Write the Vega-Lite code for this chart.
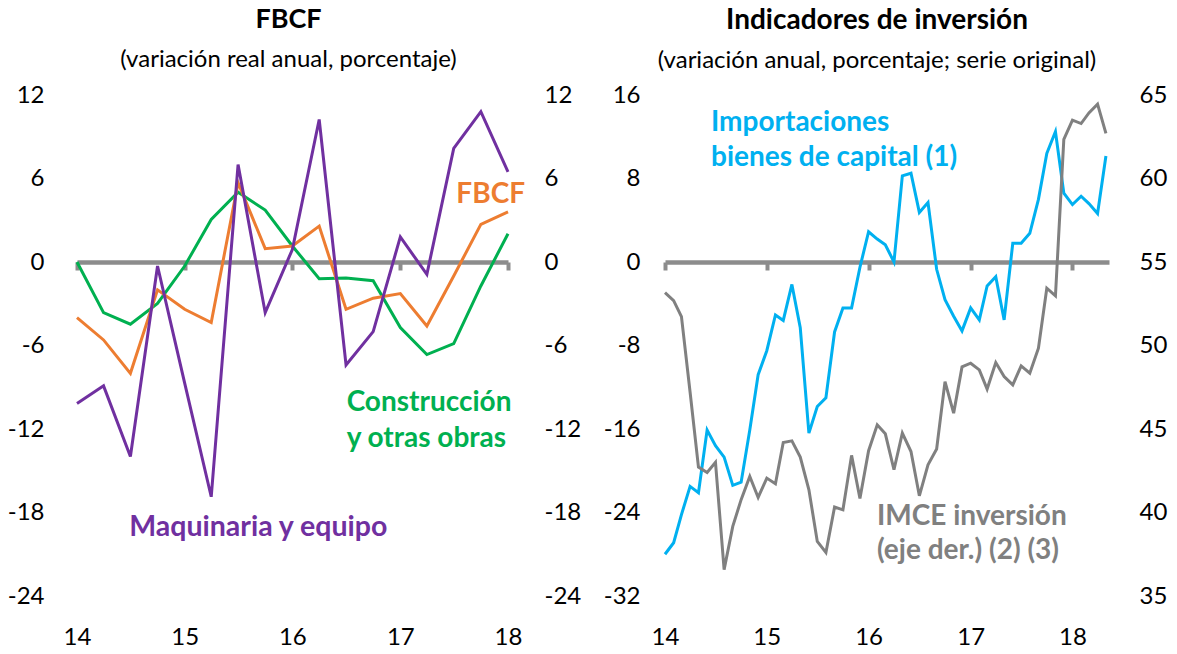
{
  "$schema": "https://vega.github.io/schema/vega-lite/v6.json",
  "padding": {"left": 7, "top": 6, "right": 4, "bottom": 4},
  "background": "white",
  "bounds": "flush",
  "spacing": 157,
  "config": {
    "font": "Lato",
    "view": {"stroke": null},
    "axis": {"grid": false, "domain": false, "ticks": false, "labelFontSize": 24, "labelColor": "black", "labelFont": "Lato", "title": null},
    "title": {"font": "Lato", "fontSize": 27, "fontWeight": "bold", "color": "black", "subtitleFont": "Lato", "subtitleFontSize": 24, "subtitleColor": "black", "subtitlePadding": 14, "offset": 10, "anchor": "middle"}
  },
  "datasets": {
    "fbcf": [
      {"fecha": "2014-01-01", "serie": "Construcción y otras obras", "valor": 0.0},
      {"fecha": "2014-04-01", "serie": "Construcción y otras obras", "valor": -3.64},
      {"fecha": "2014-07-01", "serie": "Construcción y otras obras", "valor": -4.47},
      {"fecha": "2014-10-01", "serie": "Construcción y otras obras", "valor": -2.97},
      {"fecha": "2015-01-01", "serie": "Construcción y otras obras", "valor": -0.29},
      {"fecha": "2015-04-01", "serie": "Construcción y otras obras", "valor": 3.06},
      {"fecha": "2015-07-01", "serie": "Construcción y otras obras", "valor": 5.02},
      {"fecha": "2015-10-01", "serie": "Construcción y otras obras", "valor": 3.73},
      {"fecha": "2016-01-01", "serie": "Construcción y otras obras", "valor": 1.15},
      {"fecha": "2016-04-01", "serie": "Construcción y otras obras", "valor": -1.2},
      {"fecha": "2016-07-01", "serie": "Construcción y otras obras", "valor": -1.15},
      {"fecha": "2016-10-01", "serie": "Construcción y otras obras", "valor": -1.34},
      {"fecha": "2017-01-01", "serie": "Construcción y otras obras", "valor": -4.71},
      {"fecha": "2017-04-01", "serie": "Construcción y otras obras", "valor": -6.65},
      {"fecha": "2017-07-01", "serie": "Construcción y otras obras", "valor": -5.86},
      {"fecha": "2017-10-01", "serie": "Construcción y otras obras", "valor": -1.72},
      {"fecha": "2018-01-01", "serie": "Construcción y otras obras", "valor": 2.03},
      {"fecha": "2014-01-01", "serie": "FBCF", "valor": -4.0},
      {"fecha": "2014-04-01", "serie": "FBCF", "valor": -5.6},
      {"fecha": "2014-07-01", "serie": "FBCF", "valor": -8.0},
      {"fecha": "2014-10-01", "serie": "FBCF", "valor": -2.0},
      {"fecha": "2015-01-01", "serie": "FBCF", "valor": -3.4},
      {"fecha": "2015-04-01", "serie": "FBCF", "valor": -4.35},
      {"fecha": "2015-07-01", "serie": "FBCF", "valor": 5.7},
      {"fecha": "2015-10-01", "serie": "FBCF", "valor": 0.96},
      {"fecha": "2016-01-01", "serie": "FBCF", "valor": 1.15},
      {"fecha": "2016-04-01", "serie": "FBCF", "valor": 2.58},
      {"fecha": "2016-07-01", "serie": "FBCF", "valor": -3.4},
      {"fecha": "2016-10-01", "serie": "FBCF", "valor": -2.6},
      {"fecha": "2017-01-01", "serie": "FBCF", "valor": -2.27},
      {"fecha": "2017-04-01", "serie": "FBCF", "valor": -4.6},
      {"fecha": "2017-07-01", "serie": "FBCF", "valor": -1.0},
      {"fecha": "2017-10-01", "serie": "FBCF", "valor": 2.7},
      {"fecha": "2018-01-01", "serie": "FBCF", "valor": 3.6},
      {"fecha": "2014-01-01", "serie": "Maquinaria y equipo", "valor": -10.17},
      {"fecha": "2014-04-01", "serie": "Maquinaria y equipo", "valor": -8.9},
      {"fecha": "2014-07-01", "serie": "Maquinaria y equipo", "valor": -13.97},
      {"fecha": "2014-10-01", "serie": "Maquinaria y equipo", "valor": -0.29},
      {"fecha": "2015-01-01", "serie": "Maquinaria y equipo", "valor": -8.7},
      {"fecha": "2015-04-01", "serie": "Maquinaria y equipo", "valor": -16.87},
      {"fecha": "2015-07-01", "serie": "Maquinaria y equipo", "valor": 7.0},
      {"fecha": "2015-10-01", "serie": "Maquinaria y equipo", "valor": -3.64},
      {"fecha": "2016-01-01", "serie": "Maquinaria y equipo", "valor": 0.9},
      {"fecha": "2016-04-01", "serie": "Maquinaria y equipo", "valor": 10.24},
      {"fecha": "2016-07-01", "serie": "Maquinaria y equipo", "valor": -7.4},
      {"fecha": "2016-10-01", "serie": "Maquinaria y equipo", "valor": -5.0},
      {"fecha": "2017-01-01", "serie": "Maquinaria y equipo", "valor": 1.8},
      {"fecha": "2017-04-01", "serie": "Maquinaria y equipo", "valor": -0.89},
      {"fecha": "2017-07-01", "serie": "Maquinaria y equipo", "valor": 8.16},
      {"fecha": "2017-10-01", "serie": "Maquinaria y equipo", "valor": 10.8},
      {"fecha": "2018-01-01", "serie": "Maquinaria y equipo", "valor": 6.48}
    ],
    "importaciones": [
      {"fecha": "2014-01-01", "valor": -28.0},
      {"fecha": "2014-02-01", "valor": -26.9},
      {"fecha": "2014-03-01", "valor": -24.2},
      {"fecha": "2014-04-01", "valor": -21.5},
      {"fecha": "2014-05-01", "valor": -22.1},
      {"fecha": "2014-06-01", "valor": -16.1},
      {"fecha": "2014-07-01", "valor": -17.6},
      {"fecha": "2014-08-01", "valor": -18.7},
      {"fecha": "2014-09-01", "valor": -21.4},
      {"fecha": "2014-10-01", "valor": -21.1},
      {"fecha": "2014-11-01", "valor": -16.1},
      {"fecha": "2014-12-01", "valor": -10.8},
      {"fecha": "2015-01-01", "valor": -8.5},
      {"fecha": "2015-02-01", "valor": -5.07},
      {"fecha": "2015-03-01", "valor": -5.6},
      {"fecha": "2015-04-01", "valor": -2.15},
      {"fecha": "2015-05-01", "valor": -6.3},
      {"fecha": "2015-06-01", "valor": -16.4},
      {"fecha": "2015-07-01", "valor": -13.85},
      {"fecha": "2015-08-01", "valor": -13.0},
      {"fecha": "2015-09-01", "valor": -6.7},
      {"fecha": "2015-10-01", "valor": -4.4},
      {"fecha": "2015-11-01", "valor": -4.4},
      {"fecha": "2015-12-01", "valor": -0.5},
      {"fecha": "2016-01-01", "valor": 2.9},
      {"fecha": "2016-02-01", "valor": 2.2},
      {"fecha": "2016-03-01", "valor": 1.65},
      {"fecha": "2016-04-01", "valor": 0.0},
      {"fecha": "2016-05-01", "valor": 8.25},
      {"fecha": "2016-06-01", "valor": 8.5},
      {"fecha": "2016-07-01", "valor": 4.75},
      {"fecha": "2016-08-01", "valor": 5.7},
      {"fecha": "2016-09-01", "valor": -0.7},
      {"fecha": "2016-10-01", "valor": -3.6},
      {"fecha": "2016-11-01", "valor": -5.2},
      {"fecha": "2016-12-01", "valor": -6.6},
      {"fecha": "2017-01-01", "valor": -4.4},
      {"fecha": "2017-02-01", "valor": -5.55},
      {"fecha": "2017-03-01", "valor": -2.3},
      {"fecha": "2017-04-01", "valor": -1.4},
      {"fecha": "2017-05-01", "valor": -5.55},
      {"fecha": "2017-06-01", "valor": 1.8},
      {"fecha": "2017-07-01", "valor": 1.8},
      {"fecha": "2017-08-01", "valor": 2.75},
      {"fecha": "2017-09-01", "valor": 6.0},
      {"fecha": "2017-10-01", "valor": 10.4},
      {"fecha": "2017-11-01", "valor": 12.5},
      {"fecha": "2017-12-01", "valor": 6.6},
      {"fecha": "2018-01-01", "valor": 5.5},
      {"fecha": "2018-02-01", "valor": 6.3},
      {"fecha": "2018-03-01", "valor": 5.6},
      {"fecha": "2018-04-01", "valor": 4.65},
      {"fecha": "2018-05-01", "valor": 10.15}
    ],
    "imce": [
      {"fecha": "2014-01-01", "valor": 53.16},
      {"fecha": "2014-02-01", "valor": 52.69},
      {"fecha": "2014-03-01", "valor": 51.73},
      {"fecha": "2014-04-01", "valor": 47.2},
      {"fecha": "2014-05-01", "valor": 42.72},
      {"fecha": "2014-06-01", "valor": 42.4},
      {"fecha": "2014-07-01", "valor": 43.0},
      {"fecha": "2014-08-01", "valor": 36.58},
      {"fecha": "2014-09-01", "valor": 39.17},
      {"fecha": "2014-10-01", "valor": 40.77},
      {"fecha": "2014-11-01", "valor": 42.16},
      {"fecha": "2014-12-01", "valor": 40.9},
      {"fecha": "2015-01-01", "valor": 42.06},
      {"fecha": "2015-02-01", "valor": 41.72},
      {"fecha": "2015-03-01", "valor": 44.19},
      {"fecha": "2015-04-01", "valor": 44.29},
      {"fecha": "2015-05-01", "valor": 43.32},
      {"fecha": "2015-06-01", "valor": 41.36},
      {"fecha": "2015-07-01", "valor": 38.27},
      {"fecha": "2015-08-01", "valor": 37.61},
      {"fecha": "2015-09-01", "valor": 40.33},
      {"fecha": "2015-10-01", "valor": 40.16},
      {"fecha": "2015-11-01", "valor": 43.42},
      {"fecha": "2015-12-01", "valor": 40.84},
      {"fecha": "2016-01-01", "valor": 43.7},
      {"fecha": "2016-02-01", "valor": 45.25},
      {"fecha": "2016-03-01", "valor": 44.71},
      {"fecha": "2016-04-01", "valor": 42.56},
      {"fecha": "2016-05-01", "valor": 44.75},
      {"fecha": "2016-06-01", "valor": 43.65},
      {"fecha": "2016-07-01", "valor": 41.0},
      {"fecha": "2016-08-01", "valor": 42.86},
      {"fecha": "2016-09-01", "valor": 43.8},
      {"fecha": "2016-10-01", "valor": 47.84},
      {"fecha": "2016-11-01", "valor": 45.95},
      {"fecha": "2016-12-01", "valor": 48.72},
      {"fecha": "2017-01-01", "valor": 48.94},
      {"fecha": "2017-02-01", "valor": 48.54},
      {"fecha": "2017-03-01", "valor": 47.39},
      {"fecha": "2017-04-01", "valor": 48.98},
      {"fecha": "2017-05-01", "valor": 48.14},
      {"fecha": "2017-06-01", "valor": 47.64},
      {"fecha": "2017-07-01", "valor": 48.78},
      {"fecha": "2017-08-01", "valor": 48.34},
      {"fecha": "2017-09-01", "valor": 49.84},
      {"fecha": "2017-10-01", "valor": 53.43},
      {"fecha": "2017-11-01", "valor": 52.97},
      {"fecha": "2017-12-01", "valor": 62.34},
      {"fecha": "2018-01-01", "valor": 63.49},
      {"fecha": "2018-02-01", "valor": 63.29},
      {"fecha": "2018-03-01", "valor": 63.93},
      {"fecha": "2018-04-01", "valor": 64.45},
      {"fecha": "2018-05-01", "valor": 62.7}
    ]
  },
  "hconcat": [
    {
      "title": {"text": "FBCF", "subtitle": "(variación real anual, porcentaje)", "dx": -4},
      "width": 431,
      "height": 501,
      "layer": [
        {
          "data": {"name": "fbcf"},
          "mark": {"type": "line", "strokeWidth": 3},
          "encoding": {
            "x": {
              "field": "fecha", "type": "temporal",
              "scale": {"type": "utc", "domain": ["2014-01-01", "2018-01-01"]},
              "axis": {"orient": "bottom", "offset": -334, "domain": true, "domainColor": "#8C8C8C", "domainWidth": 4.5, "ticks": true, "tickColor": "#8C8C8C", "tickWidth": 4, "tickSize": 8, "labelPadding": 355, "labelFlush": false, "format": "%y", "tickCount": {"interval": "year", "step": 1}}
            },
            "y": {
              "field": "valor", "type": "quantitative",
              "scale": {"domain": [-24, 12], "nice": false, "zero": false},
              "axis": {"orient": "left", "values": [-24, -18, -12, -6, 0, 6, 12], "labelExpr": "'' + datum.value", "labelPadding": 33}
            },
            "color": {
              "field": "serie", "type": "nominal",
              "scale": {"domain": ["Construcción y otras obras", "FBCF", "Maquinaria y equipo"], "range": ["#00B050", "#ED7D31", "#7030A0"]},
              "legend": null
            }
          }
        },
        {
          "data": {"values": [{}]},
          "layer": [
            {
              "mark": {"type": "text", "font": "Lato", "fontWeight": "bold", "fontSize": 28, "align": "left", "baseline": "alphabetic", "color": "#ED7D31"},
              "encoding": {
                "x": {"datum": {"year": 2017, "month": 7, "date": 10, "utc": true}, "type": "temporal"},
                "y": {"datum": 4.24, "type": "quantitative", "scale": {"domain": [-24, 12], "nice": false, "zero": false}, "axis": {"orient": "right", "values": [-24, -18, -12, -6, 0, 6, 12], "labelExpr": "'' + datum.value", "labelPadding": 36}},
                "text": {"value": "FBCF"}
              }
            },
            {
              "mark": {"type": "text", "font": "Lato", "fontWeight": "bold", "fontSize": 28, "align": "left", "baseline": "alphabetic", "lineHeight": 36, "color": "#00B050"},
              "encoding": {
                "x": {"datum": {"year": 2016, "month": 7, "date": 3, "utc": true}, "type": "temporal"},
                "y": {"datum": -10.7, "type": "quantitative"},
                "text": {"value": ["Construcción", "y otras obras"]}
              }
            },
            {
              "mark": {"type": "text", "font": "Lato", "fontWeight": "bold", "fontSize": 28.5, "align": "left", "baseline": "alphabetic", "color": "#7030A0"},
              "encoding": {
                "x": {"datum": {"year": 2014, "month": 6, "date": 27, "utc": true}, "type": "temporal"},
                "y": {"datum": -19.68, "type": "quantitative"},
                "text": {"value": "Maquinaria y equipo"}
              }
            }
          ]
        }
      ],
      "resolve": {"scale": {"y": "independent"}, "axis": {"y": "independent"}}
    },
    {
      "title": {"text": "Indicadores de inversión", "subtitle": "(variación anual, porcentaje; serie original)", "fontSize": 28, "dx": -10},
      "width": 444,
      "height": 501,
      "layer": [
        {
          "layer": [
            {
              "data": {"name": "importaciones"},
              "mark": {"type": "line", "strokeWidth": 3, "color": "#00B0F0"},
              "encoding": {
                "x": {
                  "field": "fecha", "type": "temporal",
                  "scale": {"type": "utc", "domain": ["2014-01-01", "2018-05-12"]},
                  "axis": {"orient": "bottom", "offset": -334, "domain": true, "domainColor": "#8C8C8C", "domainWidth": 4.5, "ticks": true, "tickColor": "#8C8C8C", "tickWidth": 4, "tickSize": 8, "labelPadding": 355, "labelFlush": false, "format": "%y", "tickCount": {"interval": "year", "step": 1}}
                },
                "y": {
                  "field": "valor", "type": "quantitative",
                  "scale": {"domain": [-32, 16], "nice": false, "zero": false},
                  "axis": {"orient": "left", "values": [-32, -24, -16, -8, 0, 8, 16], "labelExpr": "'' + datum.value", "labelPadding": 25}
                }
              }
            },
            {
              "data": {"values": [{}]},
              "mark": {"type": "text", "font": "Lato", "fontWeight": "bold", "fontSize": 28, "align": "left", "baseline": "alphabetic", "lineHeight": 35, "color": "#00B0F0"},
              "encoding": {
                "x": {"datum": {"year": 2014, "month": 6, "date": 15, "utc": true}, "type": "temporal"},
                "y": {"datum": 12.55, "type": "quantitative"},
                "text": {"value": ["Importaciones", "bienes de capital (1)"]}
              }
            },
            {
              "data": {"values": [{}]},
              "mark": {"type": "text", "font": "Lato", "fontWeight": "bold", "fontSize": 28, "align": "left", "baseline": "alphabetic", "lineHeight": 34, "color": "#808080"},
              "encoding": {
                "x": {"datum": {"year": 2016, "month": 1, "date": 31, "utc": true}, "type": "temporal"},
                "y": {"datum": -25.2, "type": "quantitative"},
                "text": {"value": ["IMCE inversión", "(eje der.) (2) (3)"]}
              }
            }
          ]
        },
        {
          "data": {"name": "imce"},
          "mark": {"type": "line", "strokeWidth": 3, "color": "#808080"},
          "encoding": {
            "x": {"field": "fecha", "type": "temporal"},
            "y": {
              "field": "valor", "type": "quantitative",
              "scale": {"domain": [35, 65], "nice": false, "zero": false},
              "axis": {"orient": "right", "values": [35, 40, 45, 50, 55, 60, 65], "labelPadding": 30}
            }
          }
        }
      ],
      "resolve": {"scale": {"y": "independent"}, "axis": {"y": "independent"}}
    }
  ]
}
